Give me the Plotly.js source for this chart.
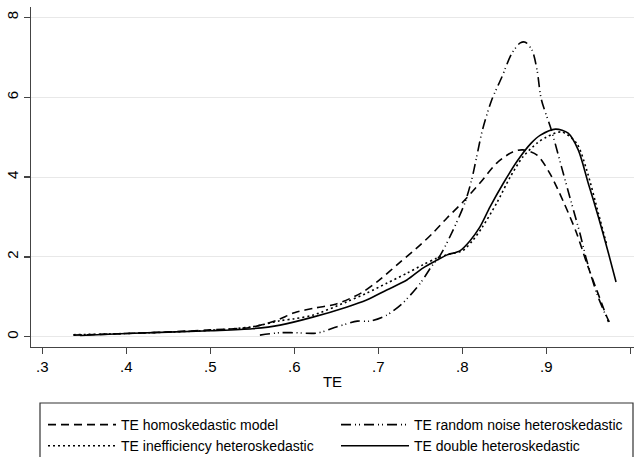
<!DOCTYPE html>
<html>
<head>
<meta charset="utf-8">
<script src="https://cdn.plot.ly/plotly-3.0.1.min.js"></script>
<style>html,body{margin:0;padding:0;background:#fff;}#chart{width:634px;height:457px;}</style>
</head>
<body>
<div id="chart"></div>
<script>
// TE homoskedastic model (dashed)
const homoX = [0.337,0.40,0.45,0.50,0.55,0.58,0.60,0.625,0.65,0.68,0.70,0.725,0.75,0.765,0.782,0.801,0.821,0.841,0.86,0.872,0.889,0.904,0.92,0.936,0.948,0.96,0.972,0.975];
const homoY = [0.04,0.08,0.12,0.17,0.24,0.42,0.60,0.72,0.82,1.10,1.40,1.85,2.30,2.60,2.98,3.38,3.85,4.35,4.63,4.68,4.55,4.10,3.40,2.60,1.85,1.17,0.50,0.37];
// TE random noise heteroskedastic (dash-dot-dot)
const randX = [0.559,0.583,0.60,0.627,0.651,0.675,0.690,0.710,0.729,0.750,0.763,0.774,0.789,0.803,0.811,0.817,0.824,0.835,0.847,0.859,0.869,0.875,0.883,0.889,0.894,0.906,0.918,0.929,0.940,0.948,0.960,0.974];
const randY = [0.04,0.10,0.10,0.09,0.25,0.39,0.39,0.54,0.84,1.34,1.75,2.05,2.67,3.35,3.92,4.50,5.18,5.93,6.50,7.10,7.36,7.38,7.18,6.68,5.95,5.18,4.26,3.42,2.59,1.92,1.09,0.37];
// TE inefficiency heteroskedastic (dotted)
const ineffX = [0.337,0.40,0.50,0.55,0.583,0.60,0.622,0.662,0.686,0.710,0.734,0.753,0.770,0.785,0.800,0.812,0.824,0.841,0.857,0.872,0.889,0.900,0.918,0.936,0.948,0.962,0.972];
const ineffY = [0.05,0.08,0.16,0.25,0.40,0.45,0.54,0.87,1.09,1.34,1.59,1.80,1.97,2.07,2.15,2.40,2.75,3.35,4.00,4.50,4.85,5.00,5.13,4.85,4.18,3.09,2.30];
// TE double heteroskedastic (solid)
const dblX = [0.345,0.40,0.50,0.55,0.583,0.622,0.662,0.686,0.710,0.734,0.753,0.770,0.782,0.797,0.809,0.821,0.833,0.849,0.866,0.882,0.893,0.911,0.926,0.938,0.950,0.962,0.974,0.983];
const dblY = [0.03,0.08,0.15,0.20,0.29,0.49,0.74,0.92,1.17,1.42,1.72,1.92,2.05,2.15,2.40,2.75,3.25,3.85,4.42,4.85,5.05,5.20,5.10,4.68,3.84,3.00,2.09,1.37];

const names = ["TE homoskedastic model","TE random noise heteroskedastic","TE inefficiency heteroskedastic","TE double heteroskedastic"];
const xTickVals = [0.3,0.4,0.5,0.6,0.7,0.8,0.9,1];
const xTickText = [".3",".4",".5",".6",".7",".8",".9","1"];
const yTickVals = [0,2,4,6,8];
const yTickText = ["0","2","4","6","8"];

function tr(x,y,name,dash,leg){
  return {x:x,y:y,name:name,type:'scatter',mode:'lines',legend:leg,
    line:{color:'#000',width:1.6,dash:dash,shape:'spline',smoothing:0.8},hoverinfo:'skip'};
}
const data = [
  tr(homoX,homoY,names[0],'8px,5px','legend'),
  tr(randX,randY,names[1],'10px,4px,1px,3px,1px,4px','legend2'),
  tr(ineffX,ineffY,names[2],'2px,3px','legend'),
  tr(dblX,dblY,names[3],'solid','legend2')
];
const L = 31, PW = 603, T = 7, PH = 340;
const legBase = {orientation:'v',xanchor:'left',yanchor:'top',y:-(409-347)/PH,
    itemwidth:68,font:{size:14,color:'#000'},bgcolor:'rgba(0,0,0,0)',borderwidth:0,
    tracegroupgap:0,itemclick:false,itemdoubleclick:false};
const layout = {
  width:634,height:457,
  margin:{l:L,r:0,t:T,b:457-T-PH,pad:0,autoexpand:false},
  paper_bgcolor:'#fff',plot_bgcolor:'#fff',
  font:{family:'"Liberation Sans", Arial, sans-serif',color:'#000'},
  showlegend:true,
  xaxis:{range:[0.2865,1.0044],tickvals:xTickVals,ticktext:xTickText,
    showgrid:false,zeroline:false,showline:true,linecolor:'#444',linewidth:1.3,
    ticks:'outside',ticklen:6,tickcolor:'#444',tickwidth:1.3,
    tickfont:{size:15,color:'#000'},automargin:false,
    title:{text:'TE',font:{size:15,color:'#000'},standoff:2}},
  yaxis:{range:[-0.258,8.26],tickvals:yTickVals,ticktext:yTickText,
    showgrid:true,gridcolor:'#e8e8e8',gridwidth:1,zeroline:false,
    showline:true,linecolor:'#444',linewidth:1.3,automargin:false,
    ticks:'outside',ticklen:6,tickcolor:'#444',tickwidth:1.3,
    tickangle:-90,tickfont:{size:15,color:'#000'}},
  legend:Object.assign({},legBase,{x:(43-L)/PW}),
  legend2:Object.assign({},legBase,{x:(336-L)/PW}),
  shapes:[{type:'rect',xref:'paper',yref:'paper',
    x0:(40-L)/PW,x1:(633-L)/PW,y0:-(403-347)/PH,y1:-(480-347)/PH,
    line:{color:'#333',width:1.2},fillcolor:'rgba(0,0,0,0)'}]
};
Plotly.newPlot('chart',data,layout,{displayModeBar:false,staticPlot:true});
</script>
</body>
</html>
